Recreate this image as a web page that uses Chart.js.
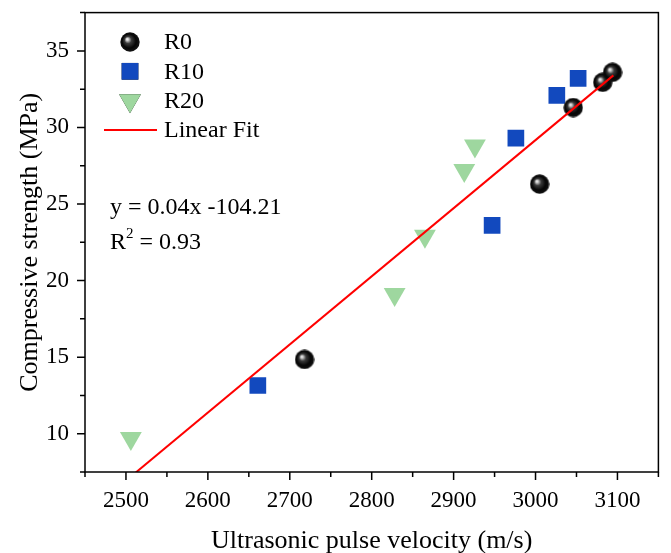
<!DOCTYPE html>
<html>
<head>
<meta charset="utf-8">
<script src="https://cdn.jsdelivr.net/npm/chart.js@4.4.1/dist/chart.umd.min.js"></script>
<style>
  body { margin: 0; background: #fff; }
  #wrap { width: 671px; height: 553px; }
</style>
</head>
<body>
<div id="wrap"><canvas id="uv"></canvas></div>
<script>
// data
let r0X = [2718, 3005, 3046, 3082, 3094];
let r0Y = [14.85, 26.3, 31.3, 32.95, 33.6];
let r10X = [2661, 2947, 2976, 3026, 3052];
let r10Y = [13.15, 23.6, 29.3, 32.1, 33.2];
let r20X = [2506, 2828, 2865, 2913, 2926];
let r20Y = [9.7, 19.1, 22.9, 27.2, 28.8];
let fitX = [2506, 3095];
let fitY = [7.2, 33.4];

let xTicks = [2500, 2600, 2700, 2800, 2900, 3000, 3100];
let yTicks = [10, 15, 20, 25, 30, 35];

const serif = "'Liberation Serif', 'Times New Roman', serif";

function pairs(xs, ys) {
  return xs.map((x, i) => ({ x: x, y: ys[i] }));
}

// shaded black ball for R0
function makeBall(r) {
  const c = document.createElement("canvas");
  c.width = c.height = r * 2;
  const g = c.getContext("2d");
  const grad = g.createRadialGradient(r * 0.7, r * 0.7, 0, r, r, r);
  grad.addColorStop(0, "#ffffff");
  grad.addColorStop(0.12, "#d0d0d0");
  grad.addColorStop(0.35, "#3a3a3a");
  grad.addColorStop(0.7, "#050505");
  grad.addColorStop(1, "#151515");
  g.fillStyle = grad;
  g.beginPath();
  g.arc(r, r, r - 0.3, 0, Math.PI * 2);
  g.fill();
  return c;
}
const ball = makeBall(10);

// frame, ticks, legend and equation
const extras = {
  id: "extras",
  afterDraw(chart) {
    const ctx = chart.ctx;
    const a = chart.chartArea;
    const xs = chart.scales.x, ys = chart.scales.y;
    ctx.save();
    ctx.strokeStyle = "#000";
    ctx.lineWidth = 1.5;
    ctx.strokeRect(a.left, a.top, a.right - a.left, a.bottom - a.top);
    ctx.beginPath();
    for (let v = 2450; v <= 3150; v += 50) {
      const p = xs.getPixelForValue(v);
      const len = v % 100 === 0 ? 8 : 5;
      ctx.moveTo(p, a.bottom);
      ctx.lineTo(p, a.bottom + len);
    }
    for (let v = 7.5; v <= 37.5; v += 2.5) {
      const p = ys.getPixelForValue(v);
      const len = v % 5 === 0 ? 8 : 5;
      ctx.moveTo(a.left, p);
      ctx.lineTo(a.left - len, p);
    }
    ctx.stroke();

    // legend
    const items = chart.data.datasets;
    const lx = 130, ly = 42, gap = 29.3;
    ctx.font = "24px " + serif;
    ctx.textBaseline = "middle";
    ctx.fillStyle = "#000";
    const order = [1, 2, 3, 0];
    order.forEach((di, k) => {
      const ds = items[di];
      const y = ly + k * gap;
      if (ds.showLine) {
        ctx.strokeStyle = ds.borderColor;
        ctx.lineWidth = 2;
        ctx.beginPath();
        ctx.moveTo(104, y);
        ctx.lineTo(157, y);
        ctx.stroke();
      } else {
        Chart.helpers.drawPoint(ctx, {
          pointStyle: ds.pointStyle,
          radius: ds.pointRadius,
          rotation: ds.pointRotation || 0,
          borderWidth: 0
        }, lx, y);
        ctx.fillStyle = ds.backgroundColor;
        ctx.fill();
      }
      ctx.fillStyle = "#000";
      ctx.fillText(ds.label, 164, y + 1);
    });

    // fit equation
    ctx.textBaseline = "alphabetic";
    ctx.font = "24px " + serif;
    ctx.fillText("y = 0.04x -104.21", 110, 214);
    ctx.fillText("R", 110, 249);
    const rw = ctx.measureText("R").width;
    ctx.font = "15px " + serif;
    ctx.fillText("2", 110 + rw, 238);
    const sw = ctx.measureText("2").width;
    ctx.font = "24px " + serif;
    ctx.fillText(" = 0.93", 110 + rw + sw, 249);
    ctx.restore();
  }
};

const ctx = document.getElementById("uv");
const uvChart = new Chart(ctx, {
  type: "scatter",
  data: {
    datasets: [
      {
        label: "Linear Fit",
        data: pairs(fitX, fitY),
        showLine: true,
        borderColor: "#ff0000",
        backgroundColor: "#ff0000",
        borderWidth: 2,
        pointRadius: 0,
        order: 0
      },
      {
        label: "R0",
        data: pairs(r0X, r0Y),
        pointStyle: ball,
        pointRadius: 10,
        backgroundColor: "#000",
        order: 1
      },
      {
        label: "R10",
        data: pairs(r10X, r10Y),
        pointStyle: "rect",
        pointRadius: 11.8,
        backgroundColor: "#1249be",
        borderWidth: 0,
        order: 2
      },
      {
        label: "R20",
        data: pairs(r20X, r20Y),
        pointStyle: "triangle",
        pointRotation: 180,
        pointRadius: 12.6,
        backgroundColor: "#9ed79f",
        borderWidth: 0,
        order: 3
      }
    ]
  },
  options: {
    responsive: true,
    maintainAspectRatio: false,
    animation: false,
    layout: { padding: { top: 11, right: 8, left: 0, bottom: 0 } },
    plugins: {
      legend: { display: false },
      tooltip: { enabled: false }
    },
    elements: { point: { borderWidth: 0, hoverRadius: 0 } },
    scales: {
      x: {
        type: "linear",
        min: 2450,
        max: 3150,
        afterBuildTicks: (s) => { s.ticks = xTicks.map((v) => ({ value: v })); },
        afterFit: (s) => { s.height = 81; s.paddingLeft = 0; s.paddingRight = 0; },
        grid: { display: false },
        border: { display: false },
        ticks: {
          color: "#000",
          padding: 7,
          font: { family: serif, size: 23 },
          callback: (v) => String(v)
        },
        title: {
          display: true,
          text: "Ultrasonic pulse velocity (m/s)",
          color: "#000",
          font: { family: serif, size: 26, lineHeight: 0.65 },
          padding: { top: 0, bottom: 3 }
        }
      },
      y: {
        type: "linear",
        min: 7.5,
        max: 37.5,
        afterBuildTicks: (s) => { s.ticks = yTicks.map((v) => ({ value: v })); },
        afterFit: (s) => { s.width = 85; s.paddingTop = 0; s.paddingBottom = 0; },
        grid: { display: false },
        border: { display: false },
        ticks: {
          color: "#000",
          padding: 8,
          font: { family: serif, size: 23 },
          callback: (v) => String(v)
        },
        title: {
          display: true,
          text: "Compressive strength (MPa)",
          color: "#000",
          font: { family: serif, size: 26 },
          padding: { top: 15, bottom: 0 }
        }
      }
    }
  },
  plugins: [extras]
});
</script>
</body>
</html>
